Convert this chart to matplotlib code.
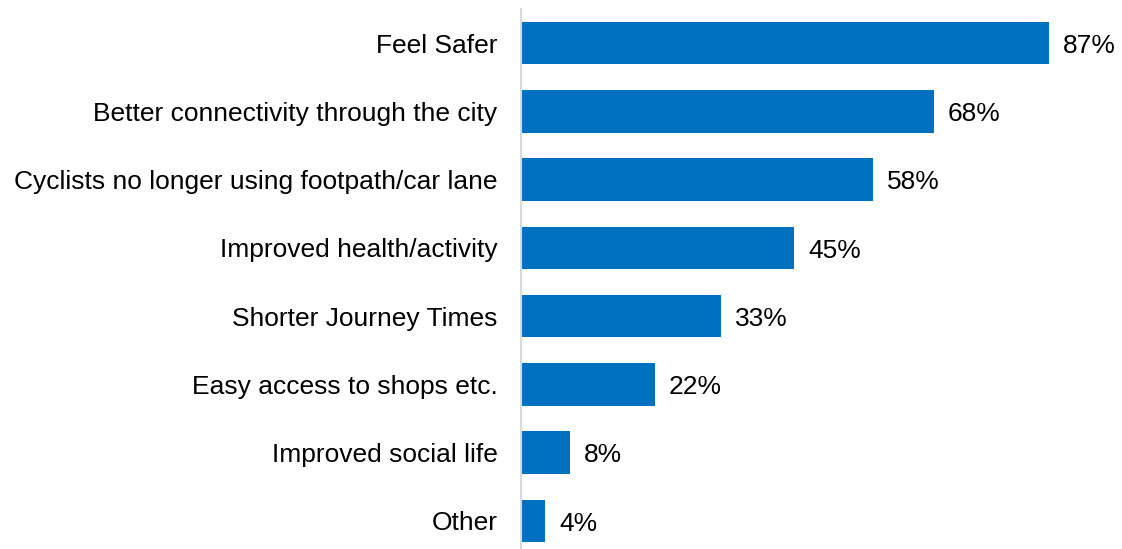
import matplotlib.pyplot as plt

plt.rcParams['font.family'] = ['Liberation Sans', 'DejaVu Sans']

labels = ['Feel Safer', 'Better connectivity through the city',
          'Cyclists no longer using footpath/car lane', 'Improved health/activity',
          'Shorter Journey Times', 'Easy access to shops etc.',
          'Improved social life', 'Other']
values = [87, 68, 58, 45, 33, 22, 8, 4]

fig = plt.figure(figsize=(11.22, 5.49), dpi=100)
ax = fig.add_axes([521 / 1122, 0, 1 - 521 / 1122, 1 - 9 / 549])

pos = list(range(len(labels)))
bars = ax.barh(pos, values, height=0.62, color='#0070C0')

for b, v in zip(bars, values):
    ax.annotate(f'{v}%', (b.get_width(), b.get_y() + b.get_height() / 2),
                xytext=(10, -2), textcoords='offset points',
                va='center', ha='left', fontsize=19)

ax.set_yticks(pos)
ax.set_yticklabels(labels, fontsize=19)
ax.set_ylim(7.5 - 6 / 68.3, -0.5)
ax.set_xlim(0, 99)
ax.set_xticks([])
ax.tick_params(axis='y', length=0, pad=17)
for s in ['top', 'right', 'bottom']:
    ax.spines[s].set_visible(False)
ax.spines['left'].set_color('#d9d9d9')
ax.spines['left'].set_linewidth(1.5)

fig.savefig('out.png', dpi=100)
